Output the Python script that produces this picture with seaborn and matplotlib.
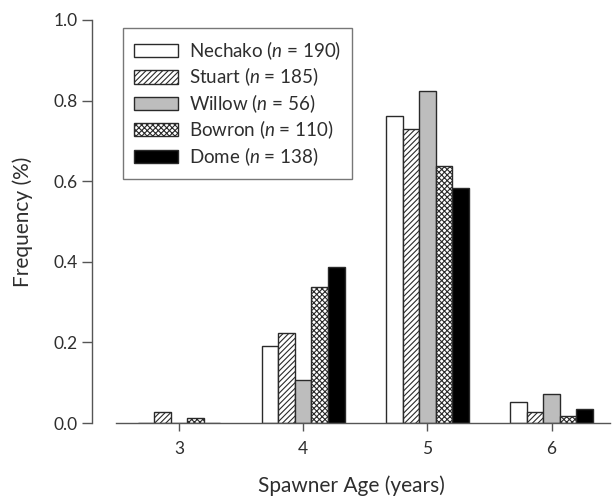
import matplotlib
matplotlib.use("Agg")
import matplotlib.pyplot as plt
from matplotlib.patches import Patch
import seaborn as sns
import pandas as pd

ages = [3, 4, 5, 6]
rivers = ["Nechako", "Stuart", "Willow", "Bowron", "Dome"]
sample_sizes = [190, 185, 56, 110, 138]
nechako = [0.0, 0.19, 0.761, 0.051]
stuart = [0.028, 0.223, 0.729, 0.027]
willow = [0.0, 0.107, 0.824, 0.071]
bowron = [0.012, 0.338, 0.638, 0.018]
dome = [0.0, 0.386, 0.582, 0.035]
yticks = [0.0, 0.2, 0.4, 0.6, 0.8, 1.0]

series = [nechako, stuart, willow, bowron, dome]
rows = []
for r, vals in zip(rivers, series):
    for a, v in zip(ages, vals):
        rows.append({"age": a, "river": r, "freq": v})
df = pd.DataFrame(rows)

sns.set_style("ticks")
plt.rcParams["font.family"] = ["Lato", "DejaVu Sans"]
plt.rcParams["mathtext.fontset"] = "custom"
plt.rcParams["mathtext.it"] = "Lato:italic"
plt.rcParams["mathtext.rm"] = "Lato"
plt.rcParams["hatch.linewidth"] = 0.8
txt = "#2e2e2e"
spine_c = "#555555"

fills = ["white", "white", "#bdbdbd", "white", "black"]
hatches = ["", "//////", "", "xxxxxx", ""]
edge = "#2a2a2a"

fig = plt.figure(figsize=(6.13, 4.97), dpi=100)
ax = fig.add_axes([92 / 613, 74 / 497, (610 - 92) / 613, 403 / 497])

sns.barplot(data=df, x="age", y="freq", hue="river", hue_order=rivers,
            palette=fills, native_scale=True, width=0.667, edgecolor=edge,
            linewidth=1.0, ax=ax, legend=False, errorbar=None, saturation=1)

for cont, h in zip(ax.containers, hatches):
    for p in cont:
        p.set_hatch(h)

ax.set_xlim(2.30, 6.47)
ax.set_ylim(0, 1.0)
ax.set_xticks(ages)
ax.set_xticklabels([str(a) for a in ages])
ax.set_yticks(yticks)
ax.set_yticklabels([f"{v:.1f}" for v in yticks])
ax.spines["top"].set_visible(False)
ax.spines["right"].set_visible(False)
ax.spines["bottom"].set_bounds(2.49, 6.47)
for s in ("left", "bottom"):
    ax.spines[s].set_color(spine_c)
    ax.spines[s].set_linewidth(1.0)
ax.tick_params(axis="y", length=7, width=1, color=spine_c, labelsize=12.5,
               labelcolor=txt, pad=3)
ax.tick_params(axis="x", length=6, width=1, color=spine_c, labelsize=12.5,
               labelcolor=txt, pad=7)
ax.set_xlabel("Spawner Age (years)", fontsize=15, color=txt, labelpad=13)
ax.set_ylabel("Frequency (%)", fontsize=15, color=txt, labelpad=15)

handles = [Patch(facecolor=f, edgecolor=edge, hatch=h, linewidth=1.0)
           for f, h in zip(fills, hatches)]
labels = [f"{r} ($n$ = {n})" for r, n in zip(rivers, sample_sizes)]
leg = ax.legend(handles, labels, loc="upper left", bbox_to_anchor=(0.06, 0.98),
                borderaxespad=0, frameon=True, fancybox=False, fontsize=13.5,
                handlelength=2.35, handleheight=0.7, handletextpad=0.55,
                labelspacing=0.2, borderpad=0.6, labelcolor=txt)
leg.get_frame().set_edgecolor(spine_c)
leg.get_frame().set_linewidth(1.0)

fig.savefig("out.png", dpi=100)
